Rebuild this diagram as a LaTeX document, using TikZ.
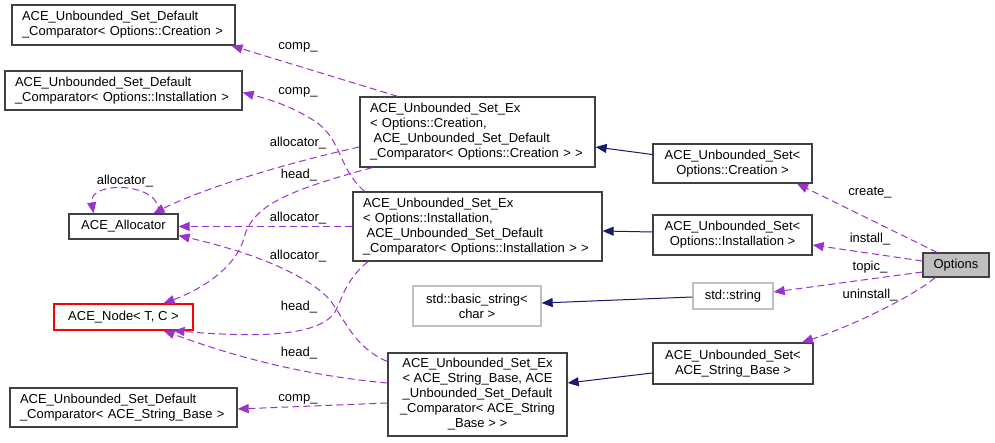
\documentclass[tikz,border=0pt]{standalone}
\usepackage{fontspec}
\setmainfont{Liberation Sans}
\usetikzlibrary{arrows.meta,calc}
\definecolor{purp}{HTML}{9A32CD}
\definecolor{navyc}{HTML}{191970}
\definecolor{bord}{HTML}{404040}
\definecolor{lgray}{HTML}{BFBFBF}
\begin{document}
\begin{tikzpicture}[x=1pt,y=-1pt,
  box/.style={draw=bord, line width=1.3pt, rectangle, inner sep=0pt, font=\fontsize{13}{15}\selectfont},
  gbox/.style={box, draw=lgray},
  rbox/.style={box, draw=red},
  lbl/.style={inner sep=0pt, font=\fontsize{13}{15}\selectfont},
  conn/.style={draw=purp, line width=1pt, dash pattern=on 7pt off 4pt, -{Triangle[length=11pt,width=9pt,fill=purp]}},
  inh/.style={draw=navyc, line width=1pt, -{Triangle[length=11pt,width=9pt,fill=navyc]}}
]
\fill[white] (0,0) rectangle (995,443);
\useasboundingbox (0,0) rectangle (995,443);

% nodes
\node[box, minimum width=223pt, minimum height=40pt, text width=203pt, align=left] (ccre) at (123.5,25)
  {ACE\_Unbounded\_Set\_Default\\\_Comparator< Options::Creation >};
\node[box, minimum width=237pt, minimum height=39pt, text width=217pt, align=left] (cins) at (123.5,90.5)
  {ACE\_Unbounded\_Set\_Default\\\_Comparator< Options::Installation >};
\node[box, minimum width=109pt, minimum height=25pt, align=center] (alloc) at (123.5,226.5) {ACE\_Allocator};
\node[rbox, minimum width=139pt, minimum height=26pt, align=center] (anode) at (123.5,317) {ACE\_Node< T, C >};
\node[box, minimum width=227pt, minimum height=39pt, text width=207pt, align=left] (cstr) at (123.5,407.5)
  {ACE\_Unbounded\_Set\_Default\\\_Comparator< ACE\_String\_Base >};
\node[box, minimum width=235pt, minimum height=70pt, text width=215pt, align=left] (xcre) at (477.5,132)
  {ACE\_Unbounded\_Set\_Ex\\< Options::Creation,\\\hspace*{0.28em}ACE\_Unbounded\_Set\_Default\\\_Comparator< Options::Creation > >};
\node[box, minimum width=249pt, minimum height=69pt, text width=229pt, align=left] (xins) at (477.5,226.5)
  {ACE\_Unbounded\_Set\_Ex\\< Options::Installation,\\\hspace*{0.28em}ACE\_Unbounded\_Set\_Default\\\_Comparator< Options::Installation > >};
\node[gbox, minimum width=128pt, minimum height=40pt, align=center] (bstr) at (477,306) {std::basic\_string<\\char >};
\node[box, minimum width=179pt, minimum height=83pt, align=center] (xstr) at (477.5,394.5)
  {ACE\_Unbounded\_Set\_Ex\\< ACE\_String\_Base, ACE\\\_Unbounded\_Set\_Default\\\_Comparator< ACE\_String\\\_Base > >};
\node[box, minimum width=159pt, minimum height=39pt, align=center] (scre) at (732.5,163.5) {ACE\_Unbounded\_Set<\\Options::Creation >};
\node[box, minimum width=159pt, minimum height=40pt, align=center] (sins) at (732.5,235) {ACE\_Unbounded\_Set<\\Options::Installation >};
\node[box, fill=lgray, minimum width=66pt, minimum height=24pt, align=center] (opt) at (956,265) {Options};
\node[gbox, minimum width=80pt, minimum height=26pt, align=center] (sstr) at (733,296) {std::string};
\node[box, minimum width=160pt, minimum height=41pt, align=center] (sbas) at (733,363.5) {ACE\_Unbounded\_Set<\\ACE\_String\_Base >};

% inheritance
\draw[inh] ($(scre.west)+(0,-9)$) -- ($(xcre.east)+(0,15)$);
\draw[inh] ($(sins.west)+(0,-3)$) -- ($(xins.east)+(0,4.5)$);
\draw[inh] ($(sstr.west)+(0,1)$) -- ($(bstr.east)+(0,-3)$);
\draw[inh] ($(sbas.west)+(0,9.5)$) -- ($(xstr.east)+(0,-11.5)$);

% usage
\draw[conn] ($(opt.north)+(-19,0)$) -- ($(scre.south)+(64.5,0)$);
\draw[conn] ($(opt.west)+(0,-4)$) -- ($(sins.east)+(0,10)$);
\draw[conn] ($(opt.west)+(0,7)$) -- ($(sstr.east)+(0,-4)$);
\draw[conn] ($(opt.south)+(-21,0)$) .. controls (915,295) and (855,325) .. ($(sbas.north)+(69,0)$);
\draw[conn] ($(xcre.north)+(-80,0)$) -- ($(ccre.south)+(108,0)$);
\draw[conn] ($(xcre.west)+(0,15)$) .. controls (300,160) and (210,185) .. ($(alloc.north)+(30,0)$);
\draw[conn] ($(xcre.south)+(-105.5,0)$) .. controls (290,190) and (252,205) .. (244,238) .. controls (236,268) and (200,290) .. ($(anode.north)+(40,0)$);
\draw[conn] ($(xins.north)+(-113,0)$) .. controls (338,168) and (342,140) .. (316,122) .. controls (292,106) and (268,99) .. ($(cins.east)+(0,2)$);
\draw[conn] (xins.west) -- (alloc.east);
\draw[conn] ($(xins.south)+(-109.5,0)$) .. controls (345,280) and (342,300) .. (335,312) .. controls (318,338) and (250,337) .. ($(anode.south)+(50,0)$);
\draw[conn] ($(xstr.west)+(0,-33)$) .. controls (355,348) and (345,320) .. (330,300) .. controls (305,273) and (250,252) .. ($(alloc.east)+(0,9)$);
\draw[conn] ($(xstr.west)+(0,-11.5)$) .. controls (300,375) and (230,355) .. ($(anode.south)+(40,0)$);
\draw[conn] ($(xstr.west)+(0,8.5)$) -- ($(cstr.east)+(0,1.5)$);
\draw[conn] ($(alloc.north)+(35,0)$) .. controls (163,182) and (88,180) .. ($(alloc.north)+(-30,0)$);

% labels
\node[lbl] (l1) at (298,47) {comp\_};
\node[lbl] (l2) at (298,92) {comp\_};
\node[lbl] (l3) at (298,143) {allocator\_};
\node[lbl] (l4) at (299,175) {head\_};
\node[lbl] (l5) at (298,218) {allocator\_};
\node[lbl] (l6) at (298,256) {allocator\_};
\node[lbl] (l7) at (299,307) {head\_};
\node[lbl] (l8) at (299,353) {head\_};
\node[lbl] (l9) at (298,399) {comp\_};
\node[lbl] (l10) at (125,181) {allocator\_};
\node[lbl] (l11) at (870,193) {create\_};
\node[lbl] (l12) at (870,239) {install\_};
\node[lbl] (l13) at (870,267) {topic\_};
\node[lbl] (l14) at (870,295) {uninstall\_};
\end{tikzpicture}
\end{document}
